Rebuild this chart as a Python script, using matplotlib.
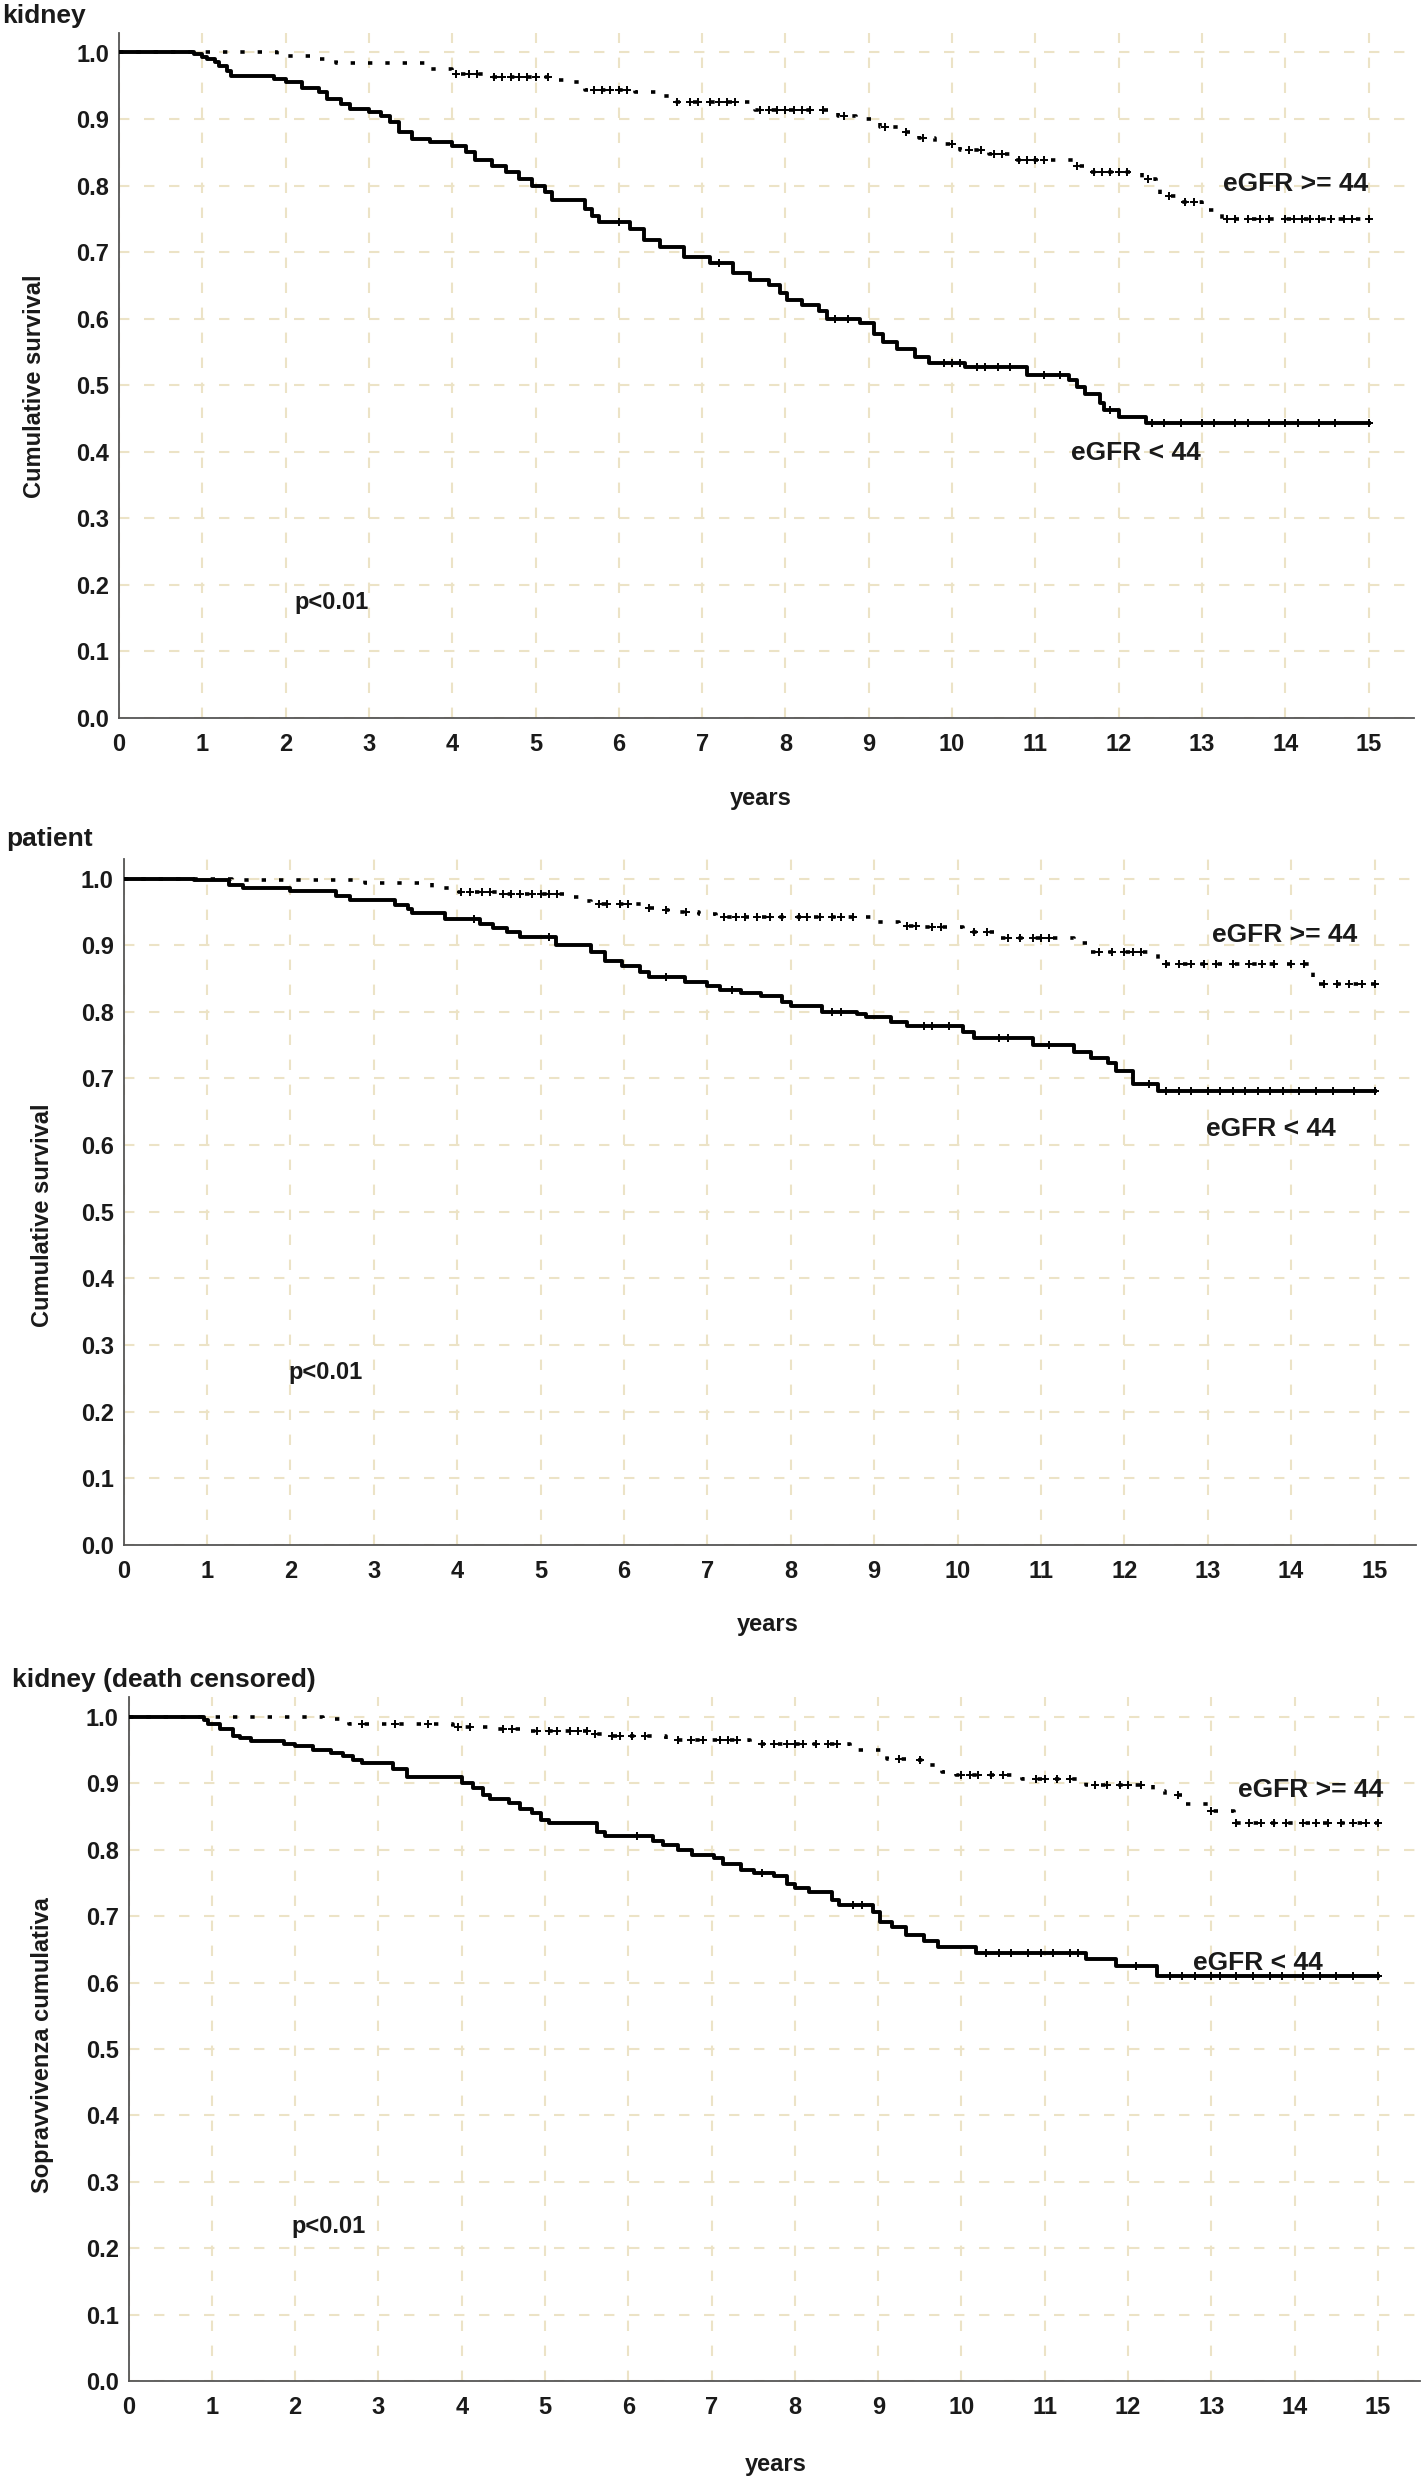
import numpy as np
import matplotlib
matplotlib.use('Agg')
import matplotlib.pyplot as plt

plt.rcParams['font.family'] = ['Liberation Sans', 'DejaVu Sans']
plt.rcParams['font.weight'] = 'bold'

# ---- data ----
# kidney
kid_lo_t = [0, 0.9, 1.0, 1.06, 1.15, 1.2, 1.3, 1.35, 1.86, 2.0,
            2.2, 2.4, 2.5, 2.66, 2.77, 3.0, 3.15, 3.25, 3.36, 3.52,
            3.73, 4.0, 4.16, 4.27, 4.48, 4.64, 4.8, 4.96, 5.12, 5.2,
            5.6, 5.68, 5.76, 6.14, 6.3, 6.5, 6.78, 7.1, 7.37, 7.58,
            7.8, 7.94, 8.02, 8.2, 8.4, 8.5, 8.9, 9.06, 9.17, 9.34,
            9.56, 9.72, 10.16, 10.9, 11.4, 11.5, 11.6, 11.78, 11.83, 12.0,
            12.33, 15]
kid_lo_s = [1.0, 0.997, 0.993, 0.99, 0.985, 0.98, 0.972, 0.965, 0.96, 0.955,
            0.947, 0.94, 0.93, 0.923, 0.915, 0.91, 0.905, 0.895, 0.88, 0.87,
            0.865, 0.86, 0.85, 0.838, 0.83, 0.82, 0.81, 0.80, 0.79, 0.778,
            0.765, 0.755, 0.745, 0.735, 0.718, 0.707, 0.693, 0.683, 0.668, 0.658,
            0.65, 0.638, 0.628, 0.62, 0.612, 0.60, 0.594, 0.577, 0.565, 0.554,
            0.542, 0.533, 0.527, 0.515, 0.508, 0.498, 0.487, 0.474, 0.463, 0.453,
            0.443, 0.443]
kid_hi_t = [0, 1.9, 2.35, 2.6, 3.73, 4.0, 4.43, 5.28, 5.44, 5.6,
            6.2, 6.5, 6.62, 7.63, 8.63, 8.85, 9.13, 9.35, 9.6, 9.8,
            10.1, 10.45, 10.73, 11.45, 11.65, 12.28, 12.45, 12.5, 12.73, 13.0,
            13.24, 15]
kid_hi_s = [1.0, 0.995, 0.99, 0.984, 0.975, 0.968, 0.963, 0.958, 0.955, 0.944,
            0.94, 0.935, 0.925, 0.914, 0.905, 0.90, 0.888, 0.88, 0.872, 0.863,
            0.854, 0.847, 0.838, 0.83, 0.82, 0.81, 0.795, 0.785, 0.775, 0.764,
            0.75, 0.75]
kid_lo_cens = [6.0, 7.2, 8.6, 8.75, 9.9, 10.0, 10.1, 10.3, 10.4, 10.55,
               10.7, 11.1, 11.3, 11.9, 12.4, 12.55, 12.75, 13.0, 13.15, 13.4,
               13.55, 13.8, 14.0, 14.15, 14.4, 14.6, 15.0]
kid_hi_cens = [4.05, 4.2, 4.3, 4.5, 4.6, 4.7, 4.8, 4.9, 5.0, 5.15,
               5.7, 5.8, 5.9, 6.0, 6.1, 6.7, 6.85, 6.95, 7.1, 7.2,
               7.3, 7.4, 7.7, 7.8, 7.9, 8.0, 8.1, 8.2, 8.3, 8.45,
               8.7, 9.2, 9.45, 9.65, 10.0, 10.2, 10.35, 10.5, 10.6, 10.8,
               10.9, 11.0, 11.1, 11.5, 11.7, 11.8, 11.9, 12.0, 12.1, 12.35,
               12.6, 12.8, 12.9, 13.3, 13.4, 13.55, 13.7, 13.8, 14.0, 14.1,
               14.2, 14.3, 14.4, 14.55, 14.7, 14.8, 15.0]

# patient
pat_lo_t = [0, 0.85, 1.27, 1.43, 2.0, 2.55, 2.72, 3.25, 3.41, 3.46,
            3.86, 4.27, 4.43, 4.6, 4.75, 5.18, 5.6, 5.77, 5.98, 6.19,
            6.3, 6.73, 7.0, 7.15, 7.4, 7.64, 7.9, 8.0, 8.37, 8.8,
            8.9, 9.2, 9.4, 10.07, 10.2, 10.9, 11.4, 11.6, 11.8, 11.9,
            12.1, 12.4, 15]
pat_lo_s = [1.0, 0.997, 0.99, 0.985, 0.981, 0.973, 0.967, 0.96, 0.954, 0.948,
            0.939, 0.932, 0.925, 0.92, 0.912, 0.90, 0.89, 0.876, 0.868, 0.86,
            0.852, 0.845, 0.838, 0.833, 0.828, 0.823, 0.815, 0.808, 0.80, 0.797,
            0.792, 0.784, 0.779, 0.77, 0.761, 0.75, 0.739, 0.731, 0.723, 0.711,
            0.692, 0.681, 0.681]
pat_hi_t = [0, 1.3, 2.9, 3.7, 4.0, 4.5, 5.3, 5.5, 5.6, 6.2,
            6.4, 6.6, 6.9, 7.1, 9.02, 9.3, 9.57, 10.07, 10.45, 11.4,
            11.6, 12.4, 14.26, 15]
pat_hi_s = [1.0, 0.998, 0.993, 0.986, 0.98, 0.977, 0.972, 0.966, 0.961, 0.956,
            0.952, 0.949, 0.946, 0.942, 0.934, 0.929, 0.927, 0.92, 0.911, 0.903,
            0.89, 0.872, 0.841, 0.841]
pat_lo_cens = [4.2, 5.1, 6.5, 7.3, 8.5, 8.6, 9.6, 9.7, 9.9, 10.5,
               10.6, 11.1, 12.3, 12.5, 12.65, 12.8, 13.0, 13.15, 13.3, 13.45,
               13.6, 13.75, 13.9, 14.1, 14.3, 14.5, 14.75, 15.0]
pat_hi_cens = [4.05, 4.15, 4.3, 4.4, 4.55, 4.65, 4.75, 4.9, 5.0, 5.1,
               5.2, 5.7, 5.8, 5.95, 6.05, 6.3, 6.5, 6.75, 7.2, 7.35,
               7.45, 7.6, 7.75, 7.9, 8.1, 8.2, 8.35, 8.5, 8.6, 8.75,
               9.4, 9.5, 9.7, 9.8, 10.2, 10.35, 10.6, 10.75, 10.9, 11.0,
               11.1, 11.7, 11.85, 12.0, 12.1, 12.2, 12.5, 12.65, 12.8, 12.95,
               13.1, 13.3, 13.5, 13.65, 13.8, 14.0, 14.15, 14.4, 14.55, 14.7,
               14.85, 15.0]

# kidney (death censored)
kdc_lo_t = [0, 0.91, 0.96, 1.1, 1.26, 1.34, 1.47, 1.87, 2.0, 2.22,
            2.43, 2.57, 2.7, 2.8, 3.18, 3.34, 4.0, 4.13, 4.26, 4.34,
            4.57, 4.7, 4.84, 4.95, 5.05, 5.62, 5.72, 6.3, 6.42, 6.6,
            6.76, 7.03, 7.14, 7.35, 7.51, 7.75, 7.91, 8.0, 8.17, 8.45,
            8.53, 8.94, 9.02, 9.17, 9.33, 9.55, 9.72, 10.18, 11.5, 11.86,
            12.35, 15]
kdc_lo_s = [1.0, 0.996, 0.99, 0.982, 0.972, 0.968, 0.964, 0.96, 0.956, 0.951,
            0.946, 0.941, 0.935, 0.93, 0.921, 0.909, 0.90, 0.893, 0.882, 0.876,
            0.87, 0.862, 0.855, 0.845, 0.84, 0.827, 0.821, 0.814, 0.807, 0.80,
            0.792, 0.787, 0.779, 0.769, 0.765, 0.761, 0.749, 0.742, 0.737, 0.725,
            0.717, 0.707, 0.692, 0.684, 0.672, 0.662, 0.653, 0.645, 0.636, 0.625,
            0.61, 0.61]
kdc_hi_t = [0, 2.33, 2.54, 2.65, 3.9, 4.4, 4.78, 5.53, 5.75, 6.45,
            6.55, 7.46, 8.66, 9.1, 9.38, 9.6, 9.77, 9.93, 10.73, 11.5,
            12.3, 12.44, 12.66, 12.97, 13.27, 15]
kdc_hi_s = [1.0, 0.997, 0.994, 0.99, 0.985, 0.982, 0.979, 0.974, 0.971, 0.967,
            0.965, 0.96, 0.951, 0.937, 0.935, 0.927, 0.917, 0.912, 0.907, 0.898,
            0.889, 0.882, 0.869, 0.858, 0.84, 0.84]
kdc_lo_cens = [6.1, 7.6, 8.7, 8.8, 10.3, 10.45, 10.6, 10.8, 10.95, 11.1,
               11.3, 11.4, 12.1, 12.5, 12.65, 12.8, 13.0, 13.1, 13.3, 13.5,
               13.7, 13.85, 14.1, 14.3, 14.5, 14.7, 15.0]
kdc_hi_cens = [2.8, 3.2, 3.6, 3.95, 4.1, 4.5, 4.6, 4.9, 5.05, 5.15,
               5.3, 5.4, 5.5, 5.6, 5.8, 5.9, 6.05, 6.2, 6.6, 6.75,
               6.9, 7.1, 7.2, 7.3, 7.6, 7.75, 7.9, 8.0, 8.1, 8.25,
               8.4, 8.5, 9.25, 9.5, 10.0, 10.1, 10.2, 10.35, 10.5, 10.9,
               11.0, 11.15, 11.3, 11.6, 11.75, 11.9, 12.0, 12.15, 12.6, 13.0,
               13.3, 13.45, 13.6, 13.75, 13.9, 14.1, 14.25, 14.4, 14.55, 14.7,
               14.85, 15.0]

titles = ['kidney', 'patient', 'kidney (death censored)']
ylabels = ['Cumulative survival', 'Cumulative survival', 'Sopravvivenza cumulativa']
x_ticks = list(range(16))
y_ticks = [i / 10 for i in range(11)]

# ---- layout (pixels in the 1423x2481 figure) ----
W, H = 1423, 2481
# x of year 0, px per year, y of 1.0, y of 0.0, xmax
geo = [(119, 83.3, 52.5, 718, 15.55),
       (123.5, 83.4, 878.5, 1545, 15.5),
       (128.5, 83.3, 1717, 2381, 15.5)]
title_pos = [(2, 16), (6, 839), (12, 1680)]
ylabel_pos = [(35, 386), (43, 1215), (43, 2045)]
xlabel_pos = [(761, 799), (768, 1624), (776, 2465)]
p_pos = [(332, 603), (326, 1372), (329, 2226)]
hi_pos = [(1296, 184), (1285, 935), (1311, 1790)]
lo_pos = [(1136, 453), (1271, 1129), (1258, 1963)]

curves = [(kid_lo_t, kid_lo_s, kid_lo_cens, kid_hi_t, kid_hi_s, kid_hi_cens),
          (pat_lo_t, pat_lo_s, pat_lo_cens, pat_hi_t, pat_hi_s, pat_hi_cens),
          (kdc_lo_t, kdc_lo_s, kdc_lo_cens, kdc_hi_t, kdc_hi_s, kdc_hi_cens)]

grid_col = '#ece3c6'
txt_col = '#1a1a1a'


def surv_at(t, s, x):
    i = np.searchsorted(t, x, side='right') - 1
    return np.array(s)[i]


fig = plt.figure(figsize=(W / 100, H / 100), dpi=100)

for k in range(3):
    x0, ppy, y1, y0, xmax = geo[k]
    ymax = 1.03
    ppv = (y0 - y1)
    top = y1 - (ymax - 1.0) * ppv
    right = x0 + xmax * ppy
    ax = fig.add_axes([x0 / W, 1 - y0 / H, (right - x0) / W, (y0 - top) / H])
    ax.set_xlim(0, xmax)
    ax.set_ylim(0, ymax)

    lo_t, lo_s, lo_c, hi_t, hi_s, hi_c = curves[k]
    ax.step(lo_t, lo_s, where='post', color='black', lw=2.8, zorder=3)
    ax.plot(lo_c, surv_at(lo_t, lo_s, lo_c), ls='none', marker='+', ms=6,
            mew=1.4, color='black', zorder=4)
    ax.step(hi_t, hi_s, where='post', color='black', lw=2.6,
            dashes=(1.2, 3.6), zorder=3)
    ax.plot(hi_c, surv_at(hi_t, hi_s, hi_c), ls='none', marker='+', ms=6,
            mew=1.4, color='black', zorder=4)

    ax.set_xticks(x_ticks)
    ax.set_yticks(y_ticks)
    ax.set_yticklabels(['%.1f' % v for v in y_ticks])
    ax.tick_params(length=0, labelsize=17, colors=txt_col)
    ax.tick_params(axis='x', pad=11)
    ax.tick_params(axis='y', pad=7)
    for lab in ax.get_xticklabels() + ax.get_yticklabels():
        lab.set_fontweight('bold')
    ax.grid(True, color=grid_col, lw=1.5, dashes=(5, 7))
    ax.set_axisbelow(True)
    for side in ['top', 'right']:
        ax.spines[side].set_visible(False)
    for side in ['left', 'bottom']:
        ax.spines[side].set_color('#555555')
        ax.spines[side].set_linewidth(1.3)

    fig.text(title_pos[k][0] / W, 1 - title_pos[k][1] / H, titles[k],
             fontsize=19, fontweight='bold', color=txt_col, ha='left', va='center')
    fig.text(ylabel_pos[k][0] / W, 1 - ylabel_pos[k][1] / H, ylabels[k],
             fontsize=17, fontweight='bold', color=txt_col, rotation=90,
             ha='center', va='center')
    fig.text(xlabel_pos[k][0] / W, 1 - xlabel_pos[k][1] / H, 'years',
             fontsize=17, fontweight='bold', color=txt_col, ha='center', va='center')
    fig.text(p_pos[k][0] / W, 1 - p_pos[k][1] / H, 'p<0.01',
             fontsize=17, fontweight='bold', color=txt_col, ha='center', va='center')
    fig.text(hi_pos[k][0] / W, 1 - hi_pos[k][1] / H, 'eGFR >= 44',
             fontsize=19, fontweight='bold', color=txt_col, ha='center', va='center')
    fig.text(lo_pos[k][0] / W, 1 - lo_pos[k][1] / H, 'eGFR < 44',
             fontsize=19, fontweight='bold', color=txt_col, ha='center', va='center')

fig.savefig('out.png', dpi=100, facecolor='white')
